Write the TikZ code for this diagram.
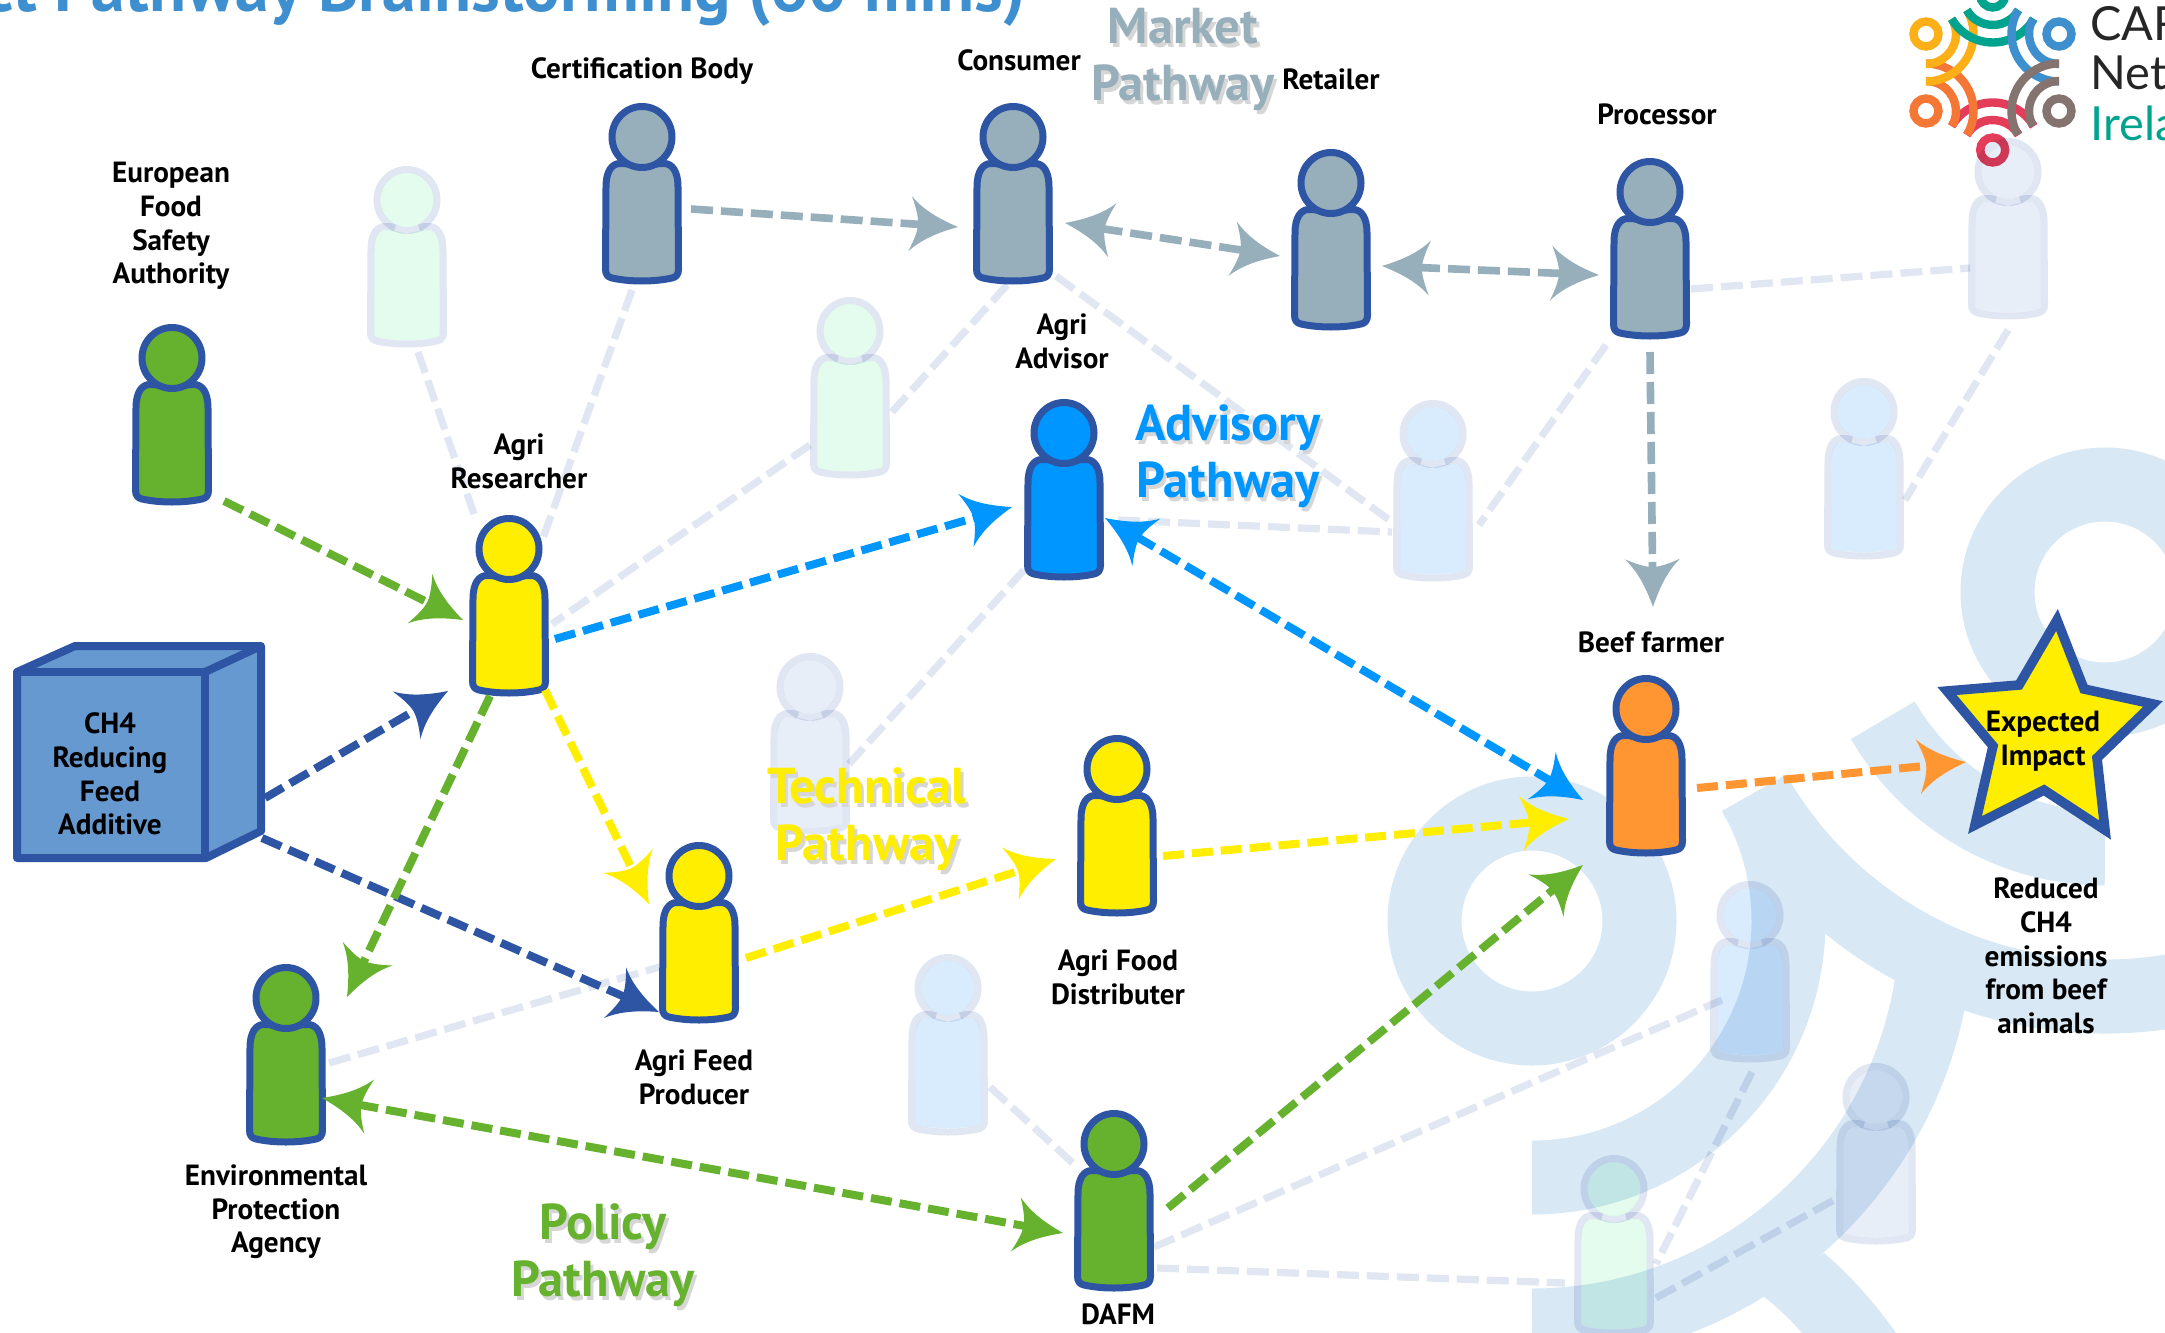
\documentclass[tikz,border=0pt]{standalone}
\usepackage{fontspec}
\setmainfont{PT Sans}
\newfontfamily\logofont{Lato}
\usetikzlibrary{arrows.meta,calc}
\definecolor{navy}{HTML}{2E55A4}
\definecolor{cubefill}{HTML}{6699D0}
\definecolor{bandblue}{HTML}{D9E8F5}
\definecolor{ghostline}{HTML}{E0E6F2}
\definecolor{ghostgreen}{HTML}{E3FCEE}
\definecolor{ghostblue}{HTML}{D9ECFE}
\definecolor{ghostlav}{HTML}{E8EEF8}
\definecolor{marketgrey}{HTML}{96AFBB}
\definecolor{advblue}{HTML}{0096FF}
\definecolor{techyellow}{HTML}{FFEE00}
\definecolor{polgreen}{HTML}{66B22E}
\definecolor{beeforange}{HTML}{FF9632}
\definecolor{titleblue}{HTML}{3D8FD0}
\definecolor{logoyellow}{HTML}{FCAF17}
\definecolor{logoteal}{HTML}{00A38D}
\definecolor{logoblue}{HTML}{3D8FCD}
\definecolor{logobrown}{HTML}{85736F}
\definecolor{logored}{HTML}{E43D5A}
\definecolor{logoorange}{HTML}{F47735}
\pgfdeclarearrow{
  name=Swept,
  setup code={\pgfarrowssettipend{0pt}\pgfarrowssetlineend{-18pt}\pgfarrowssetbackend{-24pt}},
  drawing code={
    \pgfpathmoveto{\pgfqpoint{0pt}{0pt}}
    \pgfpathcurveto{\pgfqpoint{-10pt}{3.5pt}}{\pgfqpoint{-18pt}{7.5pt}}{\pgfqpoint{-24pt}{13.8pt}}
    \pgfpathcurveto{\pgfqpoint{-21.5pt}{8pt}}{\pgfqpoint{-20pt}{3.5pt}}{\pgfqpoint{-20pt}{0pt}}
    \pgfpathcurveto{\pgfqpoint{-20pt}{-3.5pt}}{\pgfqpoint{-21.5pt}{-8pt}}{\pgfqpoint{-24pt}{-13.8pt}}
    \pgfpathcurveto{\pgfqpoint{-18pt}{-7.5pt}}{\pgfqpoint{-10pt}{-3.5pt}}{\pgfqpoint{0pt}{0pt}}
    \pgfpathclose\pgfusepathqfill
  }
}
\tikzset{
  personbox/.style={inner sep=0pt,minimum width=38pt,minimum height=90pt},
  lab/.style={font=\bfseries\fontsize{14.6}{16.85}\selectfont,align=center,text=black},
  pathlab/.style={font=\bfseries\fontsize{25.2}{28.5}\selectfont,align=center},
  conn/.style={line width=4pt,dash pattern=on 10.5pt off 4pt},
  ghostconn/.style={line width=3.6pt,color=ghostline,dash pattern=on 11pt off 4pt},
  personline/.style={line width=3.5pt,line join=round},
  band/.style={line width=37pt,color=bandblue},
  logoarc/.style={line width=4.2pt},
}
% #1 name, #2 fill, #3 stroke
\newcommand{\figureat}[3]{%
  \begin{scope}[shift={(#1.center)},shift={(0,-90)}]
    \path[personline,draw=#3,fill=#2] (0,64.5) .. controls (-8,62) and (-14,60.5) .. (-22,60.5) .. controls (-30,60.5) and (-36,68) .. (-36,84) -- (-36.5,166) .. controls (-36.5,172) and (-34,174) .. (-30,175) .. controls (-12,179) and (12,179) .. (30,175) .. controls (34,174) and (36.5,172) .. (36.5,166) -- (36,84) .. controls (36,68) and (30,60.5) .. (22,60.5) .. controls (14,60.5) and (8,62) .. (0,64.5) -- cycle;
    \path[personline,draw=#3,fill=#2] (0,34) ellipse [x radius=30,y radius=30.5];
  \end{scope}}
% faded figure: outline and inset fill, so the two do not multiply twice
\newcommand{\ghostat}[2]{%
  \begin{scope}[shift={(#1.center)},shift={(0,-90)}]
    \path[fill=#2] (0,68) .. controls (-8,65.5) and (-14,64) .. (-22,64) .. controls (-28,64) and (-32.5,70) .. (-32.5,84) -- (-33,166) .. controls (-33,169) and (-32,171) .. (-29.5,171.5) .. controls (-12,175) and (12,175) .. (29.5,171.5) .. controls (32,171) and (33,169) .. (33,166) -- (32.5,84) .. controls (32.5,70) and (28,64) .. (22,64) .. controls (14,64) and (8,65.5) .. (0,68) -- cycle;
    \path[fill=#2] (0,34) ellipse [x radius=26.5,y radius=27];
    \path[personline,draw=ghostline] (-12,62) .. controls (-15,60.5) and (-18,60.5) .. (-22,60.5) .. controls (-30,60.5) and (-36,68) .. (-36,84) -- (-36.5,166) .. controls (-36.5,172) and (-34,174) .. (-30,175) .. controls (-12,179) and (12,179) .. (30,175) .. controls (34,174) and (36.5,172) .. (36.5,166) -- (36,84) .. controls (36,68) and (30,60.5) .. (22,60.5) .. controls (18,60.5) and (15,60.5) .. (12,62);
    \path[personline,draw=ghostline] (0,34) ellipse [x radius=30,y radius=30.5];
  \end{scope}}
% #1 style, #2 node, #3 offset, #4 node, #5 offset
\newcommand{\link}[5]{\draw[#1] ([shift={(#3)}]#2.center) -- ([shift={(#5)}]#4.center);}
% #1 style, #2 cx, #3 cy, #4 radius, #5 start, #6 end
\newcommand{\ringarc}[6]{\draw[#1] (#2,#3) ++(#5:#4) arc[start angle=#5,end angle=#6,radius=#4];}
% logo group: #1 colour, #2 cx, #3 cy, #4 start, #5 end
\newcommand{\logogroup}[5]{%
  \draw[logoarc,color=#1] (#2,#3) circle[radius=12.5];
  \ringarc{logoarc,color=#1}{#2}{#3}{30}{#4}{#5}
  \ringarc{logoarc,color=#1}{#2}{#3}{47.5}{#4}{#5}}
\newcommand{\shadowtext}[4]{%
  \node[pathlab,text=black!16] at (#1+3,#2+4) {#4};
  \node[pathlab,text=#3] at (#1,#2) {#4};}
\begin{document}
\begin{tikzpicture}[x=0.5pt,y=-0.5pt]
\useasboundingbox (0,0) rectangle (2165,1333);
\clip (0,0) rectangle (2165,1333);
\fill[white] (0,0) rectangle (2165,1333);
% node places
\node[personbox] (efsa) at (172,414) {};
\node[personbox] (cert) at (642,193) {};
\node[personbox] (cons) at (1013,193) {};
\node[personbox] (ret) at (1331,239) {};
\node[personbox] (proc) at (1650,248) {};
\node[personbox] (adv) at (1064,489) {};
\node[personbox] (res) at (509,605) {};
\node[personbox] (beef) at (1646,765) {};
\node[personbox] (dist) at (1117,825) {};
\node[personbox] (feed) at (699,932) {};
\node[personbox] (epa) at (286,1054) {};
\node[personbox] (dafm) at (1114,1200) {};
\node[personbox] (ga) at (407,256) {};
\node[personbox] (gb) at (850,387) {};
\node[personbox] (gc) at (2008,228) {};
\node[personbox] (gd) at (1433,490) {};
\node[personbox] (ge) at (1864,468) {};
\node[personbox] (gf) at (810,743) {};
\node[personbox] (gg) at (948,1044) {};
\node[personbox] (gh) at (1750,971) {};
\node[personbox] (gi) at (1876,1153) {};
\node[personbox] (gj) at (1614,1245) {};
% background logo bands
\draw[bandblue,line width=37pt] (1532,921) circle[radius=107.5];
\draw[bandblue,line width=37pt] (2105,592) circle[radius=107.5];
\ringarc{band}{1532}{921}{256.5}{90}{-30}
\ringarc{band}{1532}{921}{404.5}{90}{5}
\ringarc{band}{2105}{592}{256.5}{150}{90}
\ringarc{band}{2105}{592}{404.5}{150}{75}
\fill[bandblue] (1763,1296) -- (1824,1253) .. controls (1850,1275) and (1875,1303) .. (1896,1333) -- (1802,1333) .. controls (1790,1319) and (1777,1307) .. (1763,1296) -- cycle;
% small logo
\logogroup{logored}{1992.7}{150}{-30}{-150}
\logogroup{logoorange}{1926}{111}{30}{-90}
\logogroup{logoyellow}{1926}{34}{90}{-30}
\logogroup{logoteal}{1992.7}{-5}{150}{30}
\logogroup{logoblue}{2059}{34}{210}{90}
\logogroup{logobrown}{2059}{111}{270}{150}
\node[anchor=base west,inner sep=0pt,text=black!85,font=\logofont\fontsize{23.5}{25}\selectfont] at (2090,40) {CAR};
\node[anchor=base west,inner sep=0pt,text=black!85,font=\logofont\fontsize{23.5}{25}\selectfont] at (2090,90) {Net};
\node[anchor=base west,inner sep=0pt,text=logoteal,font=\logofont\fontsize{23.5}{25}\selectfont] at (2090,140) {Irela};
% title
\node[anchor=base east,inner sep=0pt,text=titleblue,font=\bfseries\fontsize{34}{36}\selectfont] at (1026,11) {ct Pathway Brainstorming (60 mins)};
% ghost parts, multiplied over the background
\begin{scope}[blend mode=multiply]
\link{ghostconn}{ga}{11,96}{res}{-35,-91}
\link{ghostconn}{cert}{-10,97}{res}{34,-67}
\link{ghostconn}{cons}{-6,92}{gb}{42,25}
\link{ghostconn}{gb}{-40,58}{res}{43,19}
\link{ghostconn}{cons}{43,83}{gd}{-41,32}
\link{ghostconn}{adv}{54,31}{gd}{-41,42}
\link{ghostconn}{proc}{-44,97}{gd}{46,35}
\link{ghostconn}{proc}{41,41}{gc}{-38,40}
\link{ghostconn}{gc}{0,102}{ge}{41,32}
\link{ghostconn}{adv}{-40,81}{gf}{39,21}
\link{ghostconn}{epa}{43,9}{feed}{-36,34}
\link{ghostconn}{gg}{42,43}{dafm}{-37,-33}
\link{ghostconn}{dafm}{40,47}{gh}{-28,29}
\link{ghostconn}{dafm}{43,68}{gj}{-49,38}
\link{ghostconn}{gh}{2,101}{gj}{42,19}
\link{ghostconn}{gj}{42,53}{gi}{-42,47}
\ghostat{ga}{ghostgreen}
\ghostat{gb}{ghostgreen}
\ghostat{gc}{ghostlav}
\ghostat{gd}{ghostblue}
\ghostat{ge}{ghostblue}
\ghostat{gf}{ghostlav}
\ghostat{gg}{ghostblue}
\ghostat{gh}{ghostblue}
\ghostat{gi}{ghostlav}
\ghostat{gj}{ghostgreen}
\end{scope}
% main people
\figureat{efsa}{polgreen}{navy}
\figureat{cert}{marketgrey}{navy}
\figureat{cons}{marketgrey}{navy}
\figureat{ret}{marketgrey}{navy}
\figureat{proc}{marketgrey}{navy}
\figureat{adv}{advblue}{navy}
\figureat{res}{techyellow}{navy}
\figureat{beef}{beeforange}{navy}
\figureat{dist}{techyellow}{navy}
\figureat{feed}{techyellow}{navy}
\figureat{epa}{polgreen}{navy}
\figureat{dafm}{polgreen}{navy}
% cube
\path[draw=navy,fill=cubefill,line width=4pt,line join=round] (17,672) -- (75,646) -- (261,646) -- (261,831) -- (206,858) -- (17,858) -- cycle;
\draw[navy,line width=4pt,line join=round] (17,672) -- (205,672) -- (205,858);
\draw[navy,line width=4pt,line join=round] (205,672) -- (261,646);
\node[lab] (cube) at (110,774) {CH4\\Reducing\\Feed\\Additive};
% star
\path[draw=navy,fill=techyellow,line width=4.8pt,line join=miter,miter limit=10] (2057,620) -- (2019,685) -- (1947,691) -- (1993,746) -- (1975,825) -- (2044,790) -- (2105,830) -- (2097,758) -- (2153,704) -- (2084,689) -- cycle;
\node[lab] (star) at (2043,741) {Expected\\Impact};
% arrows
\link{conn,polgreen,-{Swept}}{efsa}{52,87}{res}{-46,15}
\link{conn,marketgrey,line width=3.8pt,dash pattern=on 11pt off 4pt,-{Swept}}{cert}{49,16}{cons}{-55,34}
\link{conn,marketgrey,line width=3.8pt,dash pattern=on 11pt off 4pt,{Swept}-{Swept}}{cons}{52,30}{ret}{-51,17}
\link{conn,marketgrey,line width=3.8pt,dash pattern=on 11pt off 4pt,{Swept}-{Swept}}{ret}{51,27}{proc}{-51,27}
\link{conn,marketgrey,line width=3.8pt,dash pattern=on 11pt off 4pt,-{Swept}}{proc}{0,104}{beef}{7,-158}
\link{conn,advblue,-{Swept}}{res}{46,34}{adv}{-52,18}
\link{conn,advblue,{Swept}-{Swept}}{adv}{41,29}{beef}{-63,35}
\link{conn,beeforange,-{Swept}}{beef}{51,23}{star}{-77,21}
\link{conn,techyellow,-{Swept}}{dist}{46,31}{beef}{-77,54}
\link{conn,polgreen,-{Swept}}{dafm}{54,8}{beef}{-63,100}
\link{conn,techyellow,-{Swept}}{feed}{47,26}{dist}{-61,34}
\link{conn,techyellow,-{Swept}}{res}{36,85}{feed}{-50,-28}
\link{conn,navy,-{Swept}}{cube}{155,24}{res}{-61,86}
\link{conn,navy,-{Swept}}{cube}{152,64}{feed}{-40,80}
\link{conn,polgreen,-{Swept}}{res}{-19,91}{epa}{61,-57}
\link{conn,polgreen,{Swept}-{Swept}}{epa}{36,44}{dafm}{-51,33}
% labels
\node[lab] at (642,71) {Certification Body};
\node[lab] at (1019,60) {Consumer};
\node[lab] at (1331,79) {Retailer};
\node[lab] at (1657,114) {Processor};
\node[lab] at (1062,341) {Agri\\Advisor};
\node[lab] at (171,226) {European\\Food\\Safety\\Authority};
\node[lab] at (519,461) {Agri\\Researcher};
\node[lab] at (1651,642) {Beef farmer};
\node[lab] at (2046,956) {Reduced\\CH4\\emissions\\from beef\\animals};
\node[lab] at (1118,977) {Agri Food\\Distributer};
\node[lab] at (694,1077) {Agri Feed\\Producer};
\node[lab] at (276,1212) {Environmental\\Protection\\Agency};
\node[lab] at (1118,1314) {DAFM};
\shadowtext{1183}{60}{marketgrey}{Market\\Pathway}
\shadowtext{1228}{456}{advblue}{Advisory\\Pathway}
\shadowtext{867}{819}{techyellow}{Technical\\Pathway}
\shadowtext{603}{1255}{polgreen}{Policy\\Pathway}
\end{tikzpicture}
\end{document}
